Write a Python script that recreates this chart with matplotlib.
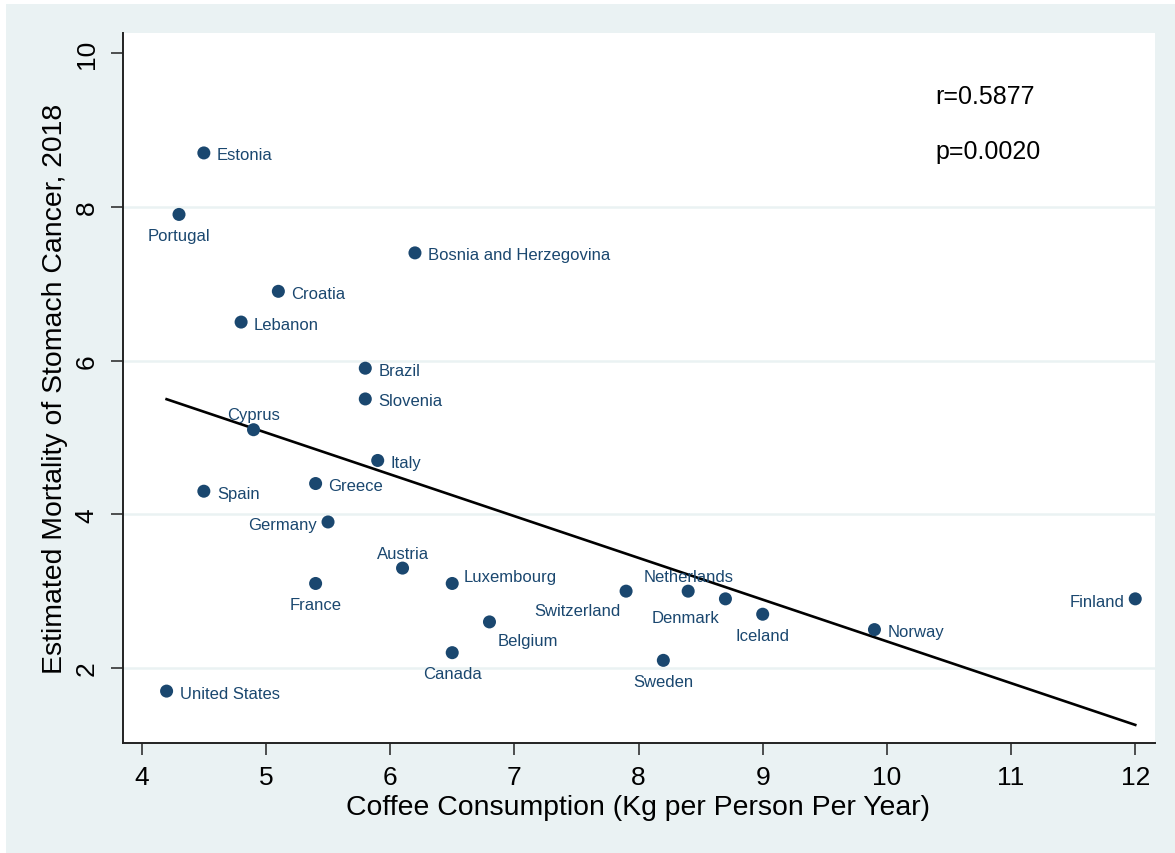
import matplotlib.pyplot as plt
import numpy as np
from matplotlib.patches import Rectangle

plt.rcParams['font.family'] = ['Liberation Sans', 'DejaVu Sans']

# coffee consumption (kg / person / year) and stomach cancer mortality, 2018
countries = ['Estonia', 'Portugal', 'Bosnia and Herzegovina', 'Croatia', 'Lebanon',
             'Brazil', 'Slovenia', 'Cyprus', 'Italy', 'Greece', 'Spain', 'Germany',
             'Austria', 'France', 'Luxembourg', 'Belgium', 'Canada', 'United States',
             'Switzerland', 'Netherlands', 'Denmark', 'Iceland', 'Sweden', 'Norway',
             'Finland']
coffee = [4.5, 4.3, 6.2, 5.1, 4.8,
          5.8, 5.8, 4.9, 5.9, 5.4, 4.5, 5.5,
          6.1, 5.4, 6.5, 6.8, 6.5, 4.2,
          7.9, 8.4, 8.7, 9.0, 8.2, 9.9,
          12.0]
mortality = [8.7, 7.9, 7.4, 6.9, 6.5,
             5.9, 5.5, 5.1, 4.7, 4.4, 4.3, 3.9,
             3.3, 3.1, 3.1, 2.6, 2.2, 1.7,
             3.0, 3.0, 2.9, 2.7, 2.1, 2.5,
             2.9]
# marker label clock positions (Stata style)
label_clock = [3, 6, 3, 3, 3,
               3, 3, 12, 3, 3, 3, 9,
               12, 6, 2, 5, 6, 3,
               7, 12, 7, 6, 6, 3,
               9]

x_ticks = [4, 5, 6, 7, 8, 9, 10, 11, 12]
y_ticks = [2, 4, 6, 8, 10]

bg = '#eaf2f3'
navy = '#1a476f'

# offset in pixels and alignment for each clock position
clock_style = {
    3: (13, -2, 'left'),
    9: (-11, -3, 'right'),
    12: (0, 15, 'center'),
    6: (0, -21, 'center'),
    7: (-6, -19, 'right'),
    5: (8, -19, 'left'),
    2: (11, 7, 'left'),
}

fig = plt.figure(figsize=(11.75, 8.54), dpi=100, facecolor=bg)
# thin white strips on top and left edge
fig.add_artist(Rectangle((0, 1 - 5 / 854), 1, 5 / 854, transform=fig.transFigure,
                         facecolor='white', edgecolor='none', zorder=-1))
fig.add_artist(Rectangle((0, 0), 6 / 1175, 1, transform=fig.transFigure,
                         facecolor='white', edgecolor='none', zorder=-1))
ax = fig.add_axes([123 / 1175, 110 / 854, 1032 / 1175, 710 / 854])
ax.set_facecolor('white')

x = np.array(coffee)
y = np.array(mortality)

# linear fit
slope, intercept = np.polyfit(x, y, 1)
xf = np.array([x.min(), x.max()])
ax.plot(xf, slope * xf + intercept, color='black', lw=1.9, zorder=3)

ax.scatter(x, y, s=88, color=navy, edgecolors='none', zorder=4)

for name, xi, yi, c in zip(countries, coffee, mortality, label_clock):
    dx, dy, ha = clock_style[c]
    ax.annotate(name, (xi, yi), xytext=(dx, dy), textcoords='offset pixels',
                ha=ha, va='center', fontsize=12, color=navy, zorder=5)

ax.text(0.787, 0.911, 'r=0.5877', transform=ax.transAxes, fontsize=18,
        ha='left', va='center')
ax.text(0.787, 0.834, 'p=0.0020', transform=ax.transAxes, fontsize=18,
        ha='left', va='center')

ax.set_xlim(3.849, 12.159)
ax.set_ylim(1.025, 10.26)
ax.set_xticks(x_ticks)
ax.set_yticks(y_ticks)

ax.grid(axis='y', color=bg, lw=1.8, zorder=0)
ax.set_axisbelow(True)
ax.get_ygridlines()[-1].set_visible(False)

for side in ['top', 'right']:
    ax.spines[side].set_visible(False)
for side in ['left', 'bottom']:
    ax.spines[side].set_linewidth(1.4)
    ax.spines[side].set_color('#222222')

ax.tick_params(direction='out', length=8.5, width=1.1, color='#222222',
               labelsize=19, pad=7)
ax.tick_params(axis='y', labelrotation=90, pad=9)
for lab in ax.get_yticklabels():
    lab.set_va('center')

ax.set_xlabel('Coffee Consumption (Kg per Person Per Year)', fontsize=20.4)
ax.set_ylabel('Estimated Mortality of Stomach Cancer, 2018', fontsize=20.4)
ax.xaxis.set_label_coords(0.4995, -0.090)
ax.xaxis.label.set_va('center')
ax.yaxis.set_label_coords(-0.066, 0.5)
ax.yaxis.label.set_va('center')

fig.savefig('out.png', dpi=100, facecolor=fig.get_facecolor())
